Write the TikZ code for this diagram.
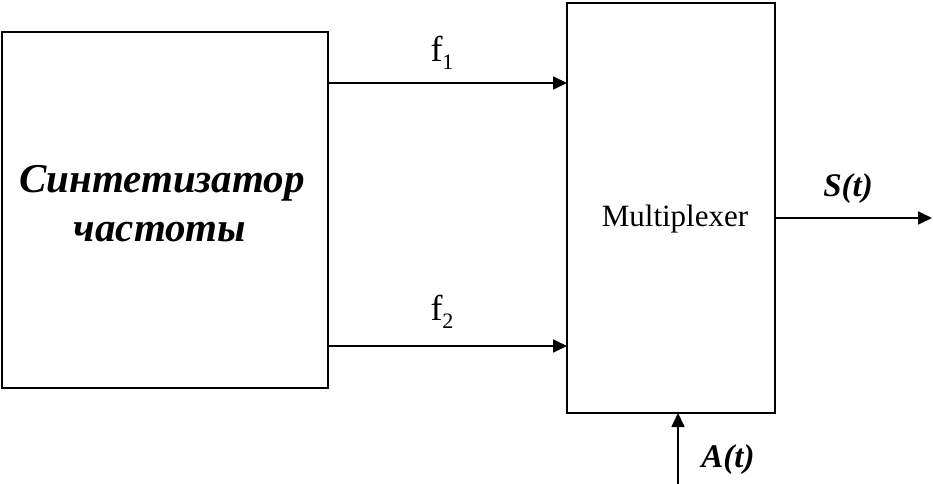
\documentclass[tikz,border=0pt]{standalone}
\usepackage{fontspec}
\setmainfont{Liberation Serif}
\usetikzlibrary{arrows.meta}
\begin{document}
\begin{tikzpicture}[x=1bp,y=-1bp,
  blockbox/.style={draw, line width=1.8bp, rectangle, inner sep=0pt, outer sep=0pt},
  arr/.style={line width=1.7bp, -{Triangle[length=14bp,width=13bp]}},
  lbl/.style={inner sep=0pt, anchor=base}
]
\useasboundingbox (0,0) rectangle (933,484);
% blocks
\node[blockbox, minimum width=326bp, minimum height=356bp] (synth) at (165,210) {};
\node[blockbox, minimum width=208bp, minimum height=410bp] (mux) at (671,208) {};
% texts
\node[lbl, font=\fontsize{41bp}{49bp}\selectfont\bfseries\itshape] (synthtxt1) at (162,193) {Синтетизатор};
\node[lbl, font=\fontsize{41bp}{49bp}\selectfont\bfseries\itshape] (synthtxt2) at (160,242) {частоты};
\node[lbl, font=\fontsize{31bp}{36bp}\selectfont] (muxtxt) at (675,227) {Multiplexer};
% connectors
\coordinate (f1y) at (0,83);
\coordinate (f2y) at (0,346);
\coordinate (outy) at (0,218);
\coordinate (out) at (932,218);
\coordinate (ain) at (678,484);
\draw[arr] (synth.east |- f1y) -- (mux.west |- f1y);
\draw[arr] (synth.east |- f2y) -- (mux.west |- f2y);
\draw[arr] (mux.east |- outy) -- (out);
\draw[arr] (ain) -- (mux.south -| ain);
% labels
\node[lbl, font=\fontsize{36bp}{40bp}\selectfont] (f1) at (442,62) {f\raisebox{-8bp}{\fontsize{22bp}{26bp}\selectfont 1}};
\node[lbl, font=\fontsize{36bp}{40bp}\selectfont] (f2) at (442,321) {f\raisebox{-8bp}{\fontsize{22bp}{26bp}\selectfont 2}};
\node[lbl, font=\fontsize{33bp}{36bp}\selectfont\bfseries\itshape] (st) at (848,197) {S(t)};
\node[lbl, font=\fontsize{33bp}{36bp}\selectfont\bfseries\itshape] (at) at (728,467) {A(t)};
\end{tikzpicture}
\end{document}
